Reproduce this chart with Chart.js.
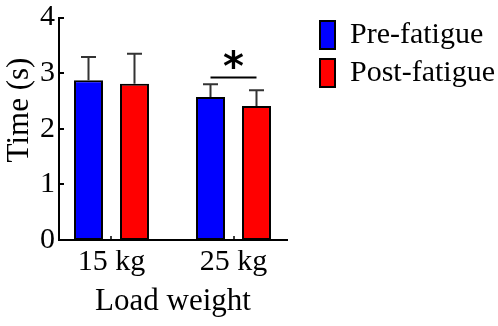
<!DOCTYPE html>
<html>
<head>
<meta charset="utf-8">
<script src="https://cdn.jsdelivr.net/npm/chart.js@4.4.1/dist/chart.umd.min.js"></script>
<style>
  html, body { margin: 0; padding: 0; background: #fff; }
  canvas { display: block; }
</style>
</head>
<body>
<canvas id="timeChart" width="498" height="326"></canvas>
<script>
const categories = ['15 kg', '25 kg'];
const preFatigue = [2.87, 2.57];
const postFatigue = [2.81, 2.41];
const preFatigueSd = [0.42, 0.23];
const postFatigueSd = [0.54, 0.28];
const yTicks = [0, 1, 2, 3, 4];
// 25 kg pre vs post is significant: bracket and asterisk heights (s)
const sigCategory = 1;
const sigLine = 2.92;
const sigStar = 3.26;

const serif = "'Liberation Serif', 'Times New Roman', serif";
Chart.defaults.font.family = serif;
Chart.defaults.color = '#000';

// upper error bars
const errorBars = {
  id: 'errorBars',
  afterDatasetsDraw(chart) {
    const ctx = chart.ctx;
    const y = chart.scales.y;
    const sds = [preFatigueSd, postFatigueSd];
    ctx.save();
    ctx.strokeStyle = '#333';
    ctx.lineWidth = 2;
    chart.data.datasets.forEach((ds, i) => {
      chart.getDatasetMeta(i).data.forEach((bar, j) => {
        const top = y.getPixelForValue(ds.data[j].y + sds[i][j]);
        ctx.beginPath();
        ctx.moveTo(bar.x, bar.y);
        ctx.lineTo(bar.x, top);
        ctx.moveTo(bar.x - 7.5, top);
        ctx.lineTo(bar.x + 7.5, top);
        ctx.stroke();
      });
    });
    ctx.restore();
  }
};

// bracket + asterisk
const significance = {
  id: 'significance',
  afterDatasetsDraw(chart) {
    const ctx = chart.ctx;
    const y = chart.scales.y;
    const a = chart.getDatasetMeta(0).data[sigCategory];
    const b = chart.getDatasetMeta(1).data[sigCategory];
    const ly = y.getPixelForValue(sigLine);
    ctx.save();
    ctx.strokeStyle = '#000';
    ctx.lineWidth = 2;
    ctx.beginPath();
    ctx.moveTo(a.x, ly);
    ctx.lineTo(b.x, ly);
    ctx.stroke();
    ctx.font = "bold 40px 'DejaVu Sans'";
    ctx.fillStyle = '#000';
    ctx.textAlign = 'center';
    ctx.textBaseline = 'alphabetic';
    const m = ctx.measureText('*');
    const sy = y.getPixelForValue(sigStar);
    ctx.fillText('*', (a.x + b.x) / 2, sy + (m.actualBoundingBoxAscent - m.actualBoundingBoxDescent) / 2);
    ctx.restore();
  }
};

// inward tick marks + rotated y title
const axisExtras = {
  id: 'axisExtras',
  afterDraw(chart) {
    const {ctx, chartArea, scales: {x, y}} = chart;
    ctx.save();
    ctx.strokeStyle = '#000';
    ctx.lineWidth = 2;
    ctx.beginPath();
    yTicks.forEach(v => {
      const py = Math.round(y.getPixelForValue(v));
      ctx.moveTo(chartArea.left, py);
      ctx.lineTo(chartArea.left + 5, py);
    });
    ctx.stroke();
    ctx.lineWidth = 1.5;
    ctx.beginPath();
    categories.forEach((c, i) => {
      const px = Math.round(x.getPixelForValue(i));
      ctx.moveTo(px, chartArea.bottom);
      ctx.lineTo(px, chartArea.bottom - 4);
    });
    ctx.stroke();

    ctx.font = '31px ' + serif;
    ctx.fillStyle = '#000';
    ctx.textAlign = 'center';
    ctx.textBaseline = 'alphabetic';
    ctx.translate(27.5, 110);
    ctx.rotate(-Math.PI / 2);
    ctx.fillText('Time (s)', 0, 0);
    ctx.restore();
  }
};

// legend sits to the right of the plot, a bit away from it
const legendPlace = {
  id: 'legendPlace',
  beforeLayout(chart) {
    const lg = chart.legend;
    if (lg && !lg._fixedFit) {
      const fit = lg.fit;
      lg.fit = function () { fit.call(this); this.width = 211; };
      lg._fixedFit = true;
    }
  },
  afterLayout(chart) {
    const lg = chart.legend;
    const w = lg.width, h = lg.height;
    lg.left = 312; lg.right = 312 + w;
    lg.top = 12; lg.bottom = 12 + h;
  }
};

new Chart(document.getElementById('timeChart'), {
  type: 'bar',
  data: {
    datasets: [{
      label: 'Pre-fatigue',
      data: preFatigue.map((v, i) => ({x: i, y: v})),
      backgroundColor: '#0000ff',
      borderColor: '#000',
      borderWidth: 2,
      borderSkipped: false
    }, {
      label: 'Post-fatigue',
      data: postFatigue.map((v, i) => ({x: i, y: v})),
      backgroundColor: '#ff0000',
      borderColor: '#000',
      borderWidth: 2,
      borderSkipped: false
    }]
  },
  options: {
    responsive: false,
    animation: false,
    categoryPercentage: 0.754,
    barPercentage: 0.63,
    layout: { padding: { top: 14, right: 0, bottom: 0, left: 0 } },
    plugins: {
      tooltip: { enabled: false },
      legend: {
        position: 'right',
        align: 'start',
        labels: {
          boxWidth: 15,
          boxHeight: 28,
          padding: 8,
          color: '#000',
          font: { size: 30 }
        }
      }
    },
    scales: {
      x: {
        type: 'linear',
        offset: false,
        min: -0.4303,
        max: 1.4385,
        afterBuildTicks: s => { s.ticks = categories.map((c, i) => ({value: i})); },
        afterFit: s => { s.height = 86; },
        grid: { display: false, drawTicks: false, offset: false },
        border: { display: true, color: '#000', width: 2 },
        ticks: {
          padding: 4,
          color: '#000',
          font: { size: 30 },
          callback: v => categories[v]
        },
        title: {
          display: true,
          text: 'Load weight',
          color: '#000',
          font: { size: 31 },
          padding: { top: 0, bottom: 6 }
        }
      },
      y: {
        min: 0,
        max: 4,
        afterBuildTicks: s => { s.ticks = yTicks.map(v => ({value: v})); },
        afterFit: s => { s.width = 59; },
        grid: { display: false, drawTicks: false },
        border: { display: true, color: '#000', width: 2 },
        ticks: {
          padding: 4,
          color: '#000',
          font: { size: 30, lineHeight: 0.9 }
        }
      }
    }
  },
  plugins: [errorBars, significance, axisExtras, legendPlace]
});
</script>
</body>
</html>
